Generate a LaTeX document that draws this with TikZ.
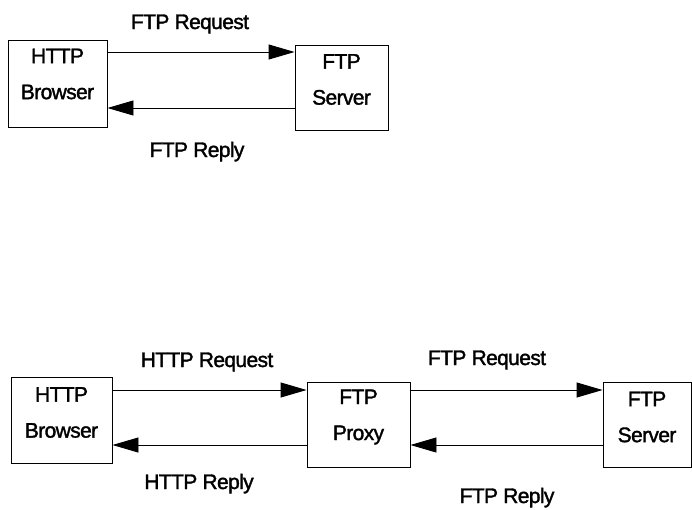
\documentclass[tikz,border=0pt]{standalone}
\usepackage{fontspec}
\setmainfont{Liberation Sans}[FakeBold=1.6, LetterSpace=-3]
\usetikzlibrary{arrows.meta}

\tikzset{
  box/.style={draw=black, line width=0.9pt, inner sep=0pt},
  boxtext/.style={align=center, font=\fontsize{21}{36}\selectfont, inner sep=0pt},
  msg/.style={font=\fontsize{21}{24}\selectfont, anchor=base, inner sep=0pt},
  arr/.style={draw=black, line width=0.9pt, -{Triangle[length=26pt,width=15pt]}}
}

\begin{document}
\begin{tikzpicture}[x=1pt,y=-1pt]
  \useasboundingbox[fill=white] (0,0) rectangle (692,509);

  % --- direct access: browser talks FTP to the server ---
  \node[box, minimum width=99pt, minimum height=87pt] (tb) at (57.5,83.5) {};
  \node[boxtext] (tbt) at ([yshift=9.5pt]tb.center) {HTTP\\Browser};
  \node[box, minimum width=93pt, minimum height=85pt] (ts) at (341.5,87.5) {};
  \node[boxtext] (tst) at ([yshift=8pt]ts.center) {FTP\\Server};

  \draw[arr] ([yshift=31.5pt]tb.east) -- ([yshift=31.5pt]tb.east -| ts.west);
  \draw[arr] ([yshift=-24.5pt]tb.east -| ts.west) -- ([yshift=-24.5pt]tb.east);

  \node[msg] (treq) at (190,29) {FTP Request};
  \node[msg] (trep) at (197,157) {FTP Reply};

  % --- access through an FTP proxy ---
  \node[box, minimum width=101pt, minimum height=86pt] (bb) at (61.5,420) {};
  \node[boxtext] (bbt) at ([yshift=7.5pt]bb.center) {HTTP\\Browser};
  \node[box, minimum width=103pt, minimum height=85pt] (bp) at (358.5,424.5) {};
  \node[boxtext] (bpt) at ([yshift=7.5pt]bp.center) {FTP\\Proxy};
  \node[box, minimum width=88pt, minimum height=85pt] (bs) at (647,424.5) {};
  \node[boxtext] (bst) at ([yshift=7.5pt]bs.center) {FTP\\Server};

  \draw[arr] ([yshift=30pt]bb.east) -- ([yshift=30pt]bb.east -| bp.west);
  \draw[arr] ([yshift=-25pt]bb.east -| bp.west) -- ([yshift=-25pt]bb.east);
  \draw[arr] ([yshift=34.5pt]bp.east) -- ([yshift=34.5pt]bp.east -| bs.west);
  \draw[arr] ([yshift=-20.5pt]bp.east -| bs.west) -- ([yshift=-20.5pt]bp.east);

  \node[msg] (breq1) at (207,367) {HTTP Request};
  \node[msg] (brep1) at (199,489) {HTTP Reply};
  \node[msg] (breq2) at (487,365) {FTP Request};
  \node[msg] (brep2) at (507,503) {FTP Reply};
\end{tikzpicture}
\end{document}
